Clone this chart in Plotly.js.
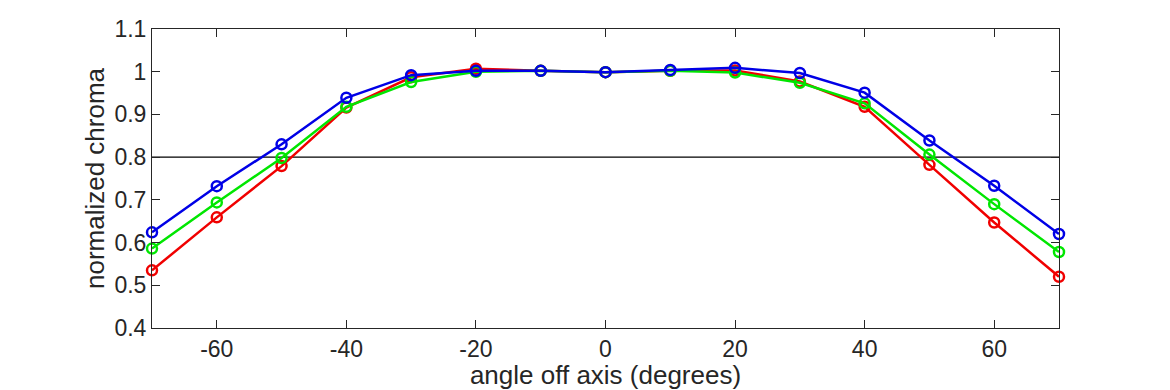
<!DOCTYPE html>
<html>
<head>
<meta charset="utf-8">
<script src="https://cdn.plot.ly/plotly-3.0.1.min.js"></script>
<style>html,body{margin:0;padding:0;background:#fff;}#chart{width:1170px;height:390px;}</style>
</head>
<body>
<div id="chart"></div>
<script>
const angles = [-70, -60, -50, -40, -30, -20, -10, 0, 10, 20, 30, 40, 50, 60, 70];
const redValues   = [0.535, 0.659, 0.779, 0.916, 0.987, 1.007, 1.002, 0.999, 1.002, 1.003, 0.977, 0.918, 0.782, 0.647, 0.520];
const greenValues = [0.586, 0.694, 0.798, 0.918, 0.976, 1.000, 1.002, 0.999, 1.002, 0.998, 0.974, 0.926, 0.806, 0.690, 0.578];
const blueValues  = [0.624, 0.732, 0.830, 0.939, 0.992, 1.002, 1.002, 0.999, 1.004, 1.009, 0.997, 0.951, 0.839, 0.733, 0.620];
const threshold = 0.8;
const xTicks = [-60, -40, -20, 0, 20, 40, 60];
const yTicks = [0.4, 0.5, 0.6, 0.7, 0.8, 0.9, 1, 1.1];
const yTickText = ['0.4', '0.5', '0.6', '0.7', '0.8', '0.9', '1', '1.1'];

function series(y, color) {
  return {
    x: angles, y: y, type: 'scatter', mode: 'lines+markers',
    line: {color: color, width: 2.5},
    marker: {symbol: 'circle-open', size: 10, color: color, line: {width: 2.5, color: color}},
    hoverinfo: 'skip', showlegend: false, cliponaxis: false
  };
}

const traces = [
  {x: [-70, 70], y: [threshold, threshold], type: 'scatter', mode: 'lines',
   line: {color: '#000', width: 1.2}, showlegend: false, hoverinfo: 'skip'},
  series(redValues, '#f00000'),
  series(greenValues, '#00e600'),
  series(blueValues, '#0000e6')
];

const fam = 'Liberation Sans, Arial, Helvetica, sans-serif';
const font = {family: fam, size: 23, color: '#262626'};
const titleFont = {family: fam, size: 26, color: '#262626'};
const layout = {
  width: 1170, height: 390,
  margin: {l: 152, r: 111, t: 29, b: 62},
  paper_bgcolor: '#fff', plot_bgcolor: '#fff',
  font: font,
  xaxis: {
    range: [-70, 70], tickvals: xTicks, ticktext: xTicks.map(String),
    ticks: 'inside', ticklen: 8, tickwidth: 1, tickcolor: '#262626',
    showline: true, mirror: 'ticks', linecolor: '#262626', linewidth: 1,
    showgrid: false, zeroline: false,
    tickfont: font,
    title: {text: 'angle off axis (degrees)', font: titleFont, standoff: 0}
  },
  yaxis: {
    range: [0.4, 1.1], tickvals: yTicks, ticktext: yTickText,
    ticks: 'inside', ticklen: 8, tickwidth: 1, tickcolor: '#262626',
    showline: true, mirror: 'ticks', linecolor: '#262626', linewidth: 1,
    showgrid: false, zeroline: false,
    tickfont: font,
    title: {text: 'normalized chroma', font: titleFont, standoff: 2}
  }
};
Plotly.newPlot('chart', traces, layout, {staticPlot: true, displayModeBar: false});
</script>
</body>
</html>
